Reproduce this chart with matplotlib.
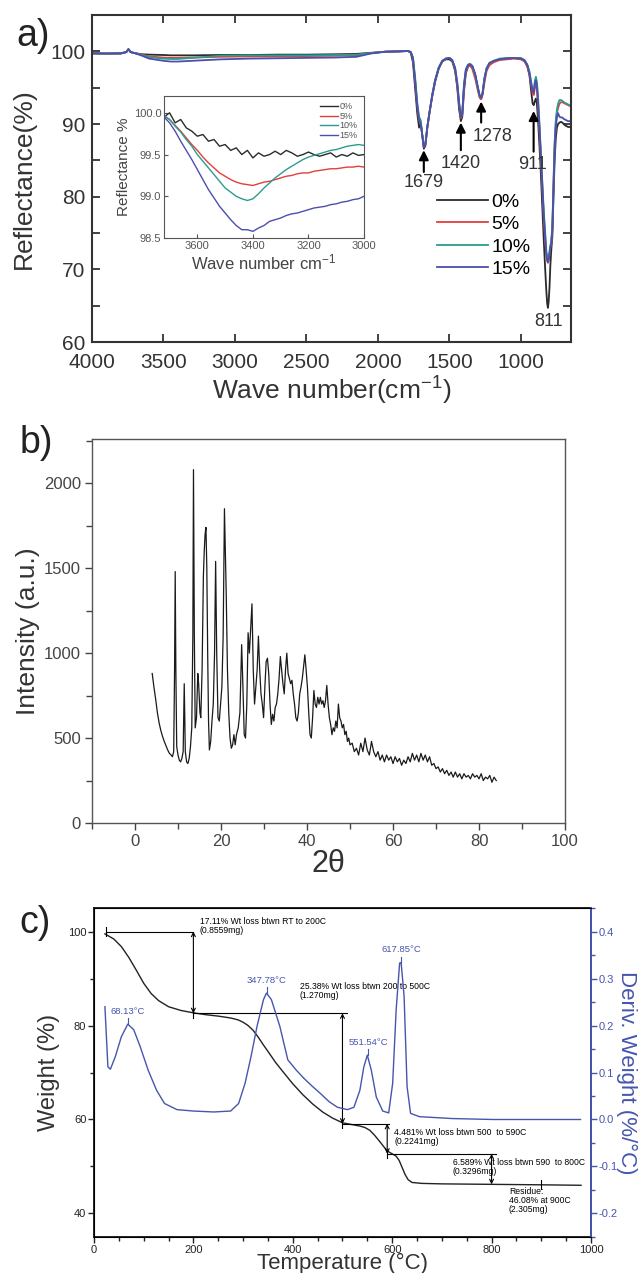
"""
three panel figure: a) FTIR reflectance, b) XRD, c) TGA / DTG
"""
import matplotlib
matplotlib.use("Agg")
import matplotlib.pyplot as plt
from matplotlib.ticker import MultipleLocator

plt.rcParams['font.family'] = ['Liberation Sans', 'DejaVu Sans']
plt.rcParams['mathtext.fontset'] = 'custom'
plt.rcParams['mathtext.rm'] = 'Liberation Sans'
plt.rcParams['mathtext.it'] = 'Liberation Sans:italic'
NARROW = ['Liberation Sans', 'DejaVu Sans']

# ---------------- a) FTIR ----------------
wave = [4000, 3900, 3800, 3760, 3745, 3730, 3700, 3650, 3600, 3500, 3450, 3400, 3300,
        3100, 2900, 2700, 2500, 2300, 2150, 2050, 1950, 1850, 1790, 1770, 1755, 1740,
        1725, 1712, 1700, 1690, 1679, 1668, 1655, 1640, 1620, 1600, 1575, 1550, 1525,
        1500, 1480, 1460, 1445, 1432, 1420, 1410, 1398, 1385, 1370, 1355, 1340, 1320,
        1300, 1288, 1278, 1268, 1255, 1240, 1220, 1190, 1150, 1100, 1050, 1000, 975,
        955, 940, 928, 918, 910, 902, 895, 888, 880, 870, 860, 850, 840, 830, 822, 816,
        811, 806, 800, 794, 788, 780, 772, 764, 756, 748, 740, 730, 720, 710, 700, 690,
        680, 670, 660, 650]
refl_0 = [99.75, 99.7, 99.75, 99.9, 100.3, 99.9, 99.75, 99.6, 99.55, 99.5, 99.45, 99.45, 99.45,
          99.5, 99.5, 99.55, 99.55, 99.6, 99.65, 99.8, 99.95, 100.0, 100.05, 99.8, 98.5, 95.0,
          91.5, 89.5, 90.0, 88.5, 86.6, 87.0, 89.5, 91.5, 93.8, 95.8, 97.6, 98.6, 98.9,
          98.9, 98.6, 97.3, 95.0, 92.0, 90.4, 91.0, 94.5, 97.0, 97.9, 98.1, 97.9, 96.8,
          94.8, 93.8, 93.5, 94.2, 96.2, 97.6, 98.3, 98.6, 98.9, 99.0, 99.1, 99.0, 98.7,
          98.0, 96.7, 94.5, 92.8, 92.6, 93.2, 93.5, 92.8, 90.5, 87.0, 83.0, 78.5, 74.0, 70.0, 67.0, 65.3,
          64.7, 65.5, 67.5, 70.5, 72.5, 74.5, 80.0, 85.0, 88.0, 89.5, 90.0, 90.2, 90.3, 90.2, 90.0, 89.8,
          89.7, 89.6, 89.6, 89.5]
refl_5 = [99.7, 99.7, 99.7, 99.9, 100.3, 99.9, 99.75, 99.55, 99.3, 99.15, 99.1, 99.1, 99.15,
          99.25, 99.3, 99.3, 99.35, 99.4, 99.45, 99.75, 99.95, 100.0, 100.05, 99.9, 99.0, 96.0,
          92.5, 90.5, 90.0, 88.5, 86.8, 87.2, 89.5, 91.5, 94.0, 96.0, 97.7, 98.6, 99.0,
          99.1, 98.7, 97.5, 95.3, 92.6, 90.8, 91.3, 95.0, 97.2, 98.0, 98.0, 97.6, 96.3,
          94.5, 93.6, 93.4, 94.0, 95.7, 97.3, 98.1, 98.5, 98.8, 98.9, 99.0, 98.9, 98.6,
          97.9, 96.8, 95.3, 94.2, 94.0, 95.0, 95.5, 94.8, 92.5, 89.0, 85.0, 81.0, 77.0, 74.0, 72.0, 71.2,
          70.9, 71.2, 72.0, 73.0, 73.5, 75.5, 81.5, 87.0, 90.0, 91.5, 92.2, 92.8, 93.0, 93.0, 92.9, 92.8,
          92.7, 92.6, 92.5, 92.5]
refl_10 = [99.75, 99.7, 99.7, 99.9, 100.3, 99.9, 99.75, 99.5, 99.2, 99.0, 98.95, 98.95, 99.1,
           99.4, 99.45, 99.45, 99.45, 99.5, 99.55, 99.75, 99.95, 100.0, 100.05, 99.9, 99.2, 96.5,
           93.0, 91.0, 90.5, 88.5, 87.0, 87.3, 89.5, 91.5, 94.0, 96.0, 97.8, 98.7, 99.0,
           99.1, 98.8, 97.7, 95.7, 93.0, 91.0, 91.5, 95.5, 97.5, 98.2, 98.3, 98.0, 96.8,
           94.9, 93.8, 93.6, 94.3, 96.3, 97.7, 98.4, 98.7, 99.0, 99.1, 99.1, 99.1, 98.8,
           98.2, 97.2, 95.8, 94.8, 94.6, 96.0, 96.5, 95.8, 93.8, 90.0, 86.0, 82.0, 78.0, 75.0, 72.5, 71.8,
           71.5, 71.8, 72.5, 73.3, 73.8, 76.0, 82.0, 87.5, 90.5, 92.0, 92.8, 93.3, 93.3, 93.2, 93.0, 92.9,
           92.8, 92.7, 92.6, 92.5]
refl_15 = [99.7, 99.7, 99.7, 99.9, 100.3, 99.9, 99.75, 99.4, 99.0, 98.7, 98.6, 98.6, 98.7,
           98.9, 99.0, 99.05, 99.1, 99.15, 99.25, 99.7, 99.95, 100.0, 100.05, 99.9, 99.0, 96.0,
           92.5, 90.5, 90.0, 88.5, 86.8, 87.2, 89.5, 91.5, 94.0, 96.0, 97.7, 98.7, 99.0,
           99.1, 98.8, 97.7, 95.6, 92.8, 90.9, 91.5, 95.3, 97.5, 98.1, 98.2, 98.0, 96.9,
           95.0, 93.9, 93.6, 94.3, 96.2, 97.6, 98.4, 98.7, 98.9, 99.0, 99.1, 99.0, 98.8,
           98.1, 97.0, 95.5, 94.5, 94.3, 95.6, 96.0, 95.3, 93.0, 89.5, 85.5, 81.5, 77.5, 74.5, 72.0, 71.3,
           71.0, 71.3, 72.0, 73.0, 73.5, 75.5, 81.0, 86.5, 89.5, 91.0, 91.5, 91.0, 90.9, 90.9, 90.7, 90.6,
           90.5, 90.4, 90.4, 90.3]
series_labels = ['0%', '5%', '10%', '15%']
series_colors = ['#2b2b2b', '#e0403a', '#2a9d8f', '#4b4fae']

# inset, O-H region
wave_in = [3740, 3720, 3700, 3680, 3660, 3640, 3620, 3600, 3580, 3560, 3540, 3520, 3500,
           3480, 3460, 3440, 3420, 3400, 3380, 3360, 3340, 3320, 3300, 3280, 3260, 3240,
           3220, 3200, 3180, 3160, 3140, 3120, 3100, 3080, 3060, 3040, 3020, 3000]
in_0 = [100.02, 99.95, 100.0, 99.88, 99.92, 99.82, 99.78, 99.72, 99.74, 99.66, 99.68, 99.6, 99.62,
        99.55, 99.58, 99.5, 99.55, 99.46, 99.52, 99.48, 99.5, 99.54, 99.5, 99.55, 99.52, 99.48,
        99.5, 99.53, 99.5, 99.48, 99.5, 99.52, 99.47, 99.5, 99.48, 99.52, 99.49, 99.5]
in_5 = [100.0, 99.96, 99.92, 99.85, 99.78, 99.7, 99.62, 99.55, 99.47, 99.4, 99.34, 99.28, 99.24,
        99.2, 99.17, 99.15, 99.14, 99.13, 99.15, 99.17, 99.18, 99.2, 99.22, 99.24, 99.25, 99.27,
        99.28, 99.28, 99.3, 99.31, 99.32, 99.33, 99.33, 99.34, 99.35, 99.35, 99.36, 99.35]
in_10 = [100.0, 99.97, 99.92, 99.84, 99.77, 99.68, 99.6, 99.5, 99.42, 99.34, 99.26, 99.18, 99.1,
         99.05, 99.0, 98.97, 98.95, 98.97, 99.03, 99.1, 99.16, 99.22, 99.27, 99.32, 99.36, 99.4,
         99.44, 99.47, 99.49, 99.51, 99.53, 99.55, 99.56, 99.58, 99.6, 99.61, 99.62, 99.61]
in_15 = [100.0, 99.95, 99.88, 99.78, 99.66, 99.55, 99.44, 99.32, 99.2, 99.08, 98.98, 98.88, 98.8,
         98.72, 98.65, 98.6, 98.6, 98.58, 98.62, 98.65, 98.7, 98.72, 98.74, 98.77, 98.79, 98.8,
         98.82, 98.84, 98.86, 98.87, 98.88, 98.9, 98.91, 98.93, 98.94, 98.96, 98.97, 99.0]

peak_pos = [1679, 1420, 1278, 911]
peak_tip = [86.4, 90.2, 93.1, 91.8]
peak_tail = [83.4, 86.4, 90.2, 86.2]
peak_text_y = [82.0, 84.6, 88.3, 84.4]
peak_text_x = [1679, 1420, 1200, 917]

# ---------------- b) XRD ----------------
two_theta = [4.0, 4.4, 4.8, 5.2, 5.6, 6.0, 6.4, 6.8, 7.2, 7.6, 8.0, 8.4, 8.7, 9.0, 9.2, 9.35,
             9.5, 9.7, 10.0, 10.3, 10.6, 10.9, 11.2, 11.45, 11.7, 12.0, 12.3, 12.6, 12.9,
             13.2, 13.45, 13.6, 13.8, 14.0, 14.3, 14.6, 14.8, 15.1, 15.3, 15.6, 15.9, 16.1,
             16.3, 16.5, 16.7, 16.9, 17.1, 17.3, 17.6, 17.9, 18.2, 18.5, 18.75, 19.0, 19.3,
             19.6, 19.9, 20.2, 20.5, 20.8, 21.0, 21.2, 21.5, 21.8, 22.1, 22.4, 22.7, 23.0,
             23.3, 23.6, 24.0, 24.4, 24.8, 25.1, 25.4, 25.7, 26.0, 26.3, 26.6, 26.9, 27.2,
             27.5, 27.8, 28.1, 28.4, 28.7, 29.0, 29.3, 29.6, 29.9, 30.2, 30.5, 30.8, 31.1,
             31.4, 31.7, 32.0, 32.3, 32.6, 32.9, 33.2, 33.5, 33.8, 34.1, 34.4, 34.7, 35.0,
             35.3, 35.6, 35.9, 36.2, 36.5, 36.8, 37.1, 37.4, 37.7, 38.0, 38.3, 38.6, 38.9,
             39.2, 39.5, 39.8, 40.1, 40.4, 40.7, 41.0, 41.3, 41.6, 41.9, 42.2, 42.5, 42.8,
             43.1, 43.4, 43.7, 44.0, 44.3, 44.6, 44.9, 45.2, 45.5, 45.8, 46.1, 46.4, 46.7,
             47.0, 47.3, 47.6, 47.9, 48.2, 48.5, 48.8, 49.1, 49.4, 49.7, 50.0, 50.5, 51.0,
             51.5, 52.0, 52.5, 53.0, 53.5, 54.0, 54.5, 55.0, 55.5, 56.0, 56.5, 57.0, 57.5,
             58.0, 58.5, 59.0, 59.5, 60.0, 60.5, 61.0, 61.5, 62.0, 62.5, 63.0, 63.5, 64.0,
             64.5, 65.0, 65.5, 66.0, 66.5, 67.0, 67.5, 68.0, 68.5, 69.0, 69.5, 70.0, 70.5,
             71.0, 71.5, 72.0, 72.5, 73.0, 73.5, 74.0, 74.5, 75.0, 75.5, 76.0, 76.5, 77.0,
             77.5, 78.0, 78.5, 79.0, 79.5, 80.0, 80.5, 81.0, 81.5, 82.0, 82.5, 83.0, 83.5, 84.0]
intensity = [880, 800, 730, 650, 590, 545, 510, 480, 455, 430, 410, 400, 390, 420, 900, 1480,
             900, 450, 400, 370, 360, 380, 420, 820, 420, 360, 350, 380, 450,
             560, 1100, 2080, 1100, 560, 620, 880, 820, 650, 620, 900, 1450, 1600,
             1700, 1740, 1500, 1000, 600, 430, 480, 600, 700, 1000, 1540, 1000, 620,
             600, 700, 800, 1100, 1850, 1600, 1370, 900, 650, 500, 440, 460, 520,
             460, 520, 560, 650, 1050, 800, 520, 500, 700, 1120, 1000, 1150, 1290,
             900, 700, 800, 900, 1100, 900, 760, 700, 620, 800, 950, 970, 880,
             700, 580, 640, 600, 680, 700, 760, 850, 980, 900, 820, 760, 900,
             1000, 880, 850, 820, 840, 760, 700, 620, 600, 650, 760, 800, 850,
             920, 990, 900, 800, 650, 520, 500, 620, 780, 700, 680, 740, 700,
             740, 700, 720, 680, 720, 810, 700, 620, 580, 520, 560, 540, 600,
             560, 700, 620, 600, 560, 580, 520, 540, 480, 500, 460, 470, 420,
             440, 400, 470, 420, 500, 430, 400, 480, 420, 390, 420, 370, 400,
             360, 400, 370, 390, 350, 390, 360, 380, 340, 370, 350, 390, 360,
             410, 370, 400, 360, 410, 370, 400, 360, 390, 340, 350, 320, 330,
             300, 320, 290, 310, 280, 300, 270, 300, 270, 290, 260, 290, 270,
             280, 260, 290, 270, 280, 260, 290, 250, 270, 260, 280, 240, 270, 250]

# ---------------- c) TGA ----------------
temp_w = [22, 40, 55, 70, 85, 100, 115, 130, 150, 175, 200, 225, 250, 275, 290, 300, 310,
          320, 330, 340, 350, 365, 380, 400, 420, 440, 460, 480, 500, 520, 535, 545, 555,
          565, 575, 590, 600, 608, 614, 620, 626, 632, 640, 660, 700, 800, 900, 980]
weight = [99.5, 98.4, 96.8, 94.5, 91.8, 89.0, 86.8, 85.3, 84.0, 83.2, 82.7, 82.3, 82.0,
          81.6, 81.2, 80.7, 80.0, 79.0, 77.6, 76.0, 74.5, 72.2, 70.2, 67.6, 65.3, 63.3,
          61.6, 60.3, 59.3, 58.9, 58.6, 58.3, 57.7, 56.6, 55.3, 53.3, 52.7, 52.2, 51.3,
          49.8, 48.3, 47.2, 46.6, 46.4, 46.3, 46.2, 46.1, 46.0]
temp_d = [22, 28, 33, 43, 55, 68, 80, 93, 109, 126, 142, 167, 200, 241, 275, 291, 304,
          316, 328, 341, 347, 357, 374, 390, 407, 423, 440, 457, 473, 490, 510, 523, 535,
          543, 550, 558, 568, 581, 593, 601, 608, 615, 618, 624, 630, 637, 655, 688, 721,
          804, 887, 979]
deriv = [0.240, 0.112, 0.107, 0.134, 0.176, 0.203, 0.191, 0.155, 0.105, 0.062, 0.034,
         0.021, 0.018, 0.016, 0.018, 0.034, 0.077, 0.134, 0.198, 0.255, 0.269, 0.255,
         0.198, 0.127, 0.105, 0.087, 0.070, 0.054, 0.038, 0.026, 0.021, 0.026, 0.062,
         0.112, 0.137, 0.105, 0.048, 0.018, 0.014, 0.077, 0.233, 0.333, 0.334, 0.262,
         0.070, 0.013, 0.006, 0.004, 0.002, 0.0, 0.0, 0.0]
dtg_peak_t = [68.13, 347.78, 551.54, 617.85]
dtg_peak_d = [0.203, 0.269, 0.137, 0.334]
# loss steps: arrow x, upper level, lower level, guide line start / end
step_x = [200, 500, 590, 800]
step_hi = [100.0, 82.6, 59.1, 52.7]
step_lo = [82.6, 59.1, 52.7, 46.2]
step_line_from = [25, 200, 500, 590]
step_line_to = [200, 510, 593, 808]
step_text = ['17.11% Wt loss btwn RT to 200C\n(0.8559mg)',
             '25.38% Wt loss btwn 200 to 500C\n(1.270mg)',
             '4.481% Wt loss btwn 500  to 590C\n(0.2241mg)',
             '6.589% Wt loss btwn 590  to 800C\n(0.3296mg)']
step_text_x = [213, 414, 604, 722]
step_text_y = [103.0, 89.2, 58.1, 51.9]
residue_text = 'Residue:\n46.08% at 900C\n(2.305mg)'

DARK = '#333333'
BLUE = '#4656ad'

fig = plt.figure(figsize=(6.42, 12.73), dpi=100)

# ---- panel a
ax_a = fig.add_axes([0.1433, 0.7313, 0.746, 0.2569])
for ys, lab, col in zip([refl_0, refl_5, refl_10, refl_15], series_labels, series_colors):
    ax_a.plot(wave, ys, color=col, lw=1.3, label=lab)
ax_a.set_xlim(4000, 650)
ax_a.set_ylim(60, 105)
ax_a.xaxis.set_major_locator(MultipleLocator(500))
ax_a.yaxis.set_major_locator(MultipleLocator(10))
ax_a.yaxis.set_minor_locator(MultipleLocator(5))
ax_a.tick_params(which='both', direction='in', top=True, right=True, width=1.3,
                 labelsize=15, colors=DARK, length=6)
ax_a.tick_params(axis='x', pad=8)
ax_a.tick_params(axis='y', pad=5)
for s in ax_a.spines.values():
    s.set_linewidth(1.5)
    s.set_color(DARK)
ax_a.set_ylabel('Reflectance(%)', fontsize=19, color=DARK, labelpad=10)
ax_a.set_xlabel('Wave number(cm$^{-1}$)', fontsize=19, color=DARK, labelpad=2)
for x, y0, y1, tx, ty in zip(peak_pos, peak_tail, peak_tip, peak_text_x, peak_text_y):
    ax_a.annotate('', xy=(x, y1), xytext=(x, y0),
                  arrowprops=dict(arrowstyle='-|>', color='black', lw=1.5,
                                  mutation_scale=14, shrinkA=0, shrinkB=0))
    ax_a.text(tx, ty, str(x), ha='center', va='center', fontsize=13, color=DARK)
ax_a.text(804, 62.8, '811', ha='center', va='center', fontsize=13, color=DARK)
ax_a.legend(loc='upper left', bbox_to_anchor=(0.70, 0.485), frameon=False, fontsize=14,
            handlelength=2.6, labelspacing=0.25, handletextpad=0.2, borderpad=0)

# inset
ax_in = fig.add_axes([0.2555, 0.813, 0.3115, 0.1115])
for ys, lab, col in zip([in_0, in_5, in_10, in_15], series_labels, series_colors):
    ax_in.plot(wave_in, ys, color=col, lw=1.0, label=lab)
ax_in.set_xlim(3720, 3000)
ax_in.set_ylim(98.5, 100.2)
ax_in.xaxis.set_major_locator(MultipleLocator(200))
ax_in.yaxis.set_major_locator(MultipleLocator(0.5))
ax_in.yaxis.set_major_formatter(plt.FormatStrFormatter('%.1f'))
ax_in.tick_params(direction='in', labelsize=8, colors='#555555', length=3, pad=2)
for s in ax_in.spines.values():
    s.set_linewidth(0.8)
    s.set_color('#555555')
ax_in.set_ylabel('Reflectance %', fontsize=11, color='#444444', labelpad=2)
ax_in.set_xlabel('Wave number cm$^{-1}$', fontsize=12, color='#444444', labelpad=1)
ax_in.legend(loc='upper right', frameon=False, fontsize=6.5, handlelength=2.0,
             labelspacing=0.05, handletextpad=0.2, borderpad=0.2, labelcolor='#555555')

# ---- panel b
ax_b = fig.add_axes([0.1433, 0.3535, 0.7368, 0.3016])
ax_b.plot(two_theta, intensity, color='#1a1a1a', lw=0.9)
ax_b.set_xlim(-10, 100)
ax_b.set_ylim(0, 2260)
ax_b.xaxis.set_major_locator(MultipleLocator(20))
ax_b.xaxis.set_minor_locator(MultipleLocator(10))
ax_b.yaxis.set_major_locator(MultipleLocator(500))
ax_b.yaxis.set_minor_locator(MultipleLocator(250))
ax_b.tick_params(which='both', direction='out', width=1.0, colors='#444444')
ax_b.tick_params(which='major', length=5, labelsize=12, pad=3)
ax_b.tick_params(which='minor', length=4)
for lab in ax_b.get_xticklabels() + ax_b.get_yticklabels():
    lab.set_family(NARROW)
for s in ax_b.spines.values():
    s.set_linewidth(1.0)
    s.set_color('#555555')
ax_b.set_ylabel('Intensity (a.u.)', fontsize=19, color=DARK, labelpad=3)
ax_b.set_xlabel('2θ', fontsize=22, color=DARK, labelpad=0)

# ---- panel c
ax_c = fig.add_axes([0.1464, 0.0283, 0.7741, 0.2584])
ax_c.plot(temp_w, weight, color='#222222', lw=1.0)
ax_c.set_xlim(0, 1000)
ax_c.set_ylim(35, 105)
ax_c.xaxis.set_major_locator(MultipleLocator(200))
ax_c.xaxis.set_minor_locator(MultipleLocator(50))
ax_c.yaxis.set_major_locator(MultipleLocator(20))
ax_c.yaxis.set_minor_locator(MultipleLocator(10))
ax_c.tick_params(which='both', direction='out', width=1.0, colors='#222222')
ax_c.tick_params(which='major', length=4, labelsize=8, pad=1.5)
ax_c.tick_params(which='minor', length=3)
for lab in ax_c.get_xticklabels() + ax_c.get_yticklabels():
    lab.set_family(NARROW)
for s in ax_c.spines.values():
    s.set_linewidth(1.4)
    s.set_color('#222222')
ax_c.set_ylabel('Weight (%)', fontsize=17, color=DARK, labelpad=6)
ax_c.set_xlabel('Temperature (°C)', fontsize=16, color=DARK, labelpad=-1)

for x, hi, lo, x0, x1, txt, tx, ty in zip(step_x, step_hi, step_lo, step_line_from,
                                          step_line_to, step_text, step_text_x, step_text_y):
    ax_c.plot([x0, x1], [hi, hi], color='black', lw=0.8)
    ax_c.plot([x0, x0], [hi - 0.9, hi + 0.9], color='black', lw=0.8)
    ax_c.annotate('', xy=(x, lo), xytext=(x, hi),
                  arrowprops=dict(arrowstyle='<->', color='black', lw=0.8,
                                  mutation_scale=7, shrinkA=0, shrinkB=0))
    ax_c.text(tx, ty, txt, ha='left', va='top', fontsize=6.2, family=NARROW,
              color='black', linespacing=1.0)
ax_c.plot([900, 900], [45.3, 47.1], color='black', lw=0.8)
ax_c.text(835, 45.6, residue_text, ha='left', va='top', fontsize=6.2, family=NARROW,
          color='black', linespacing=1.0)

ax_d = ax_c.twinx()
ax_d.plot(temp_d, deriv, color=BLUE, lw=1.0)
ax_d.set_ylim(-0.25, 0.45)
ax_d.yaxis.set_major_locator(MultipleLocator(0.1))
ax_d.yaxis.set_minor_locator(MultipleLocator(0.05))
ax_d.yaxis.set_major_formatter(plt.FormatStrFormatter('%.1f'))
ax_d.tick_params(which='both', direction='out', width=1.0, colors=BLUE)
ax_d.tick_params(which='major', length=4, labelsize=8, pad=1.5)
ax_d.tick_params(which='minor', length=3)
for lab in ax_d.get_yticklabels():
    lab.set_family(NARROW)
ax_d.spines['right'].set_color(BLUE)
ax_d.spines['right'].set_linewidth(1.4)
ax_d.set_ylabel('Deriv. Weight (%/°C)', fontsize=16, color=BLUE, rotation=-90,
                labelpad=14)
for t, d in zip(dtg_peak_t, dtg_peak_d):
    ax_d.plot([t, t], [d, d + 0.012], color=BLUE, lw=0.8)
    ax_d.text(t, d + 0.018, f'{t:.2f}°C', ha='center', va='bottom', fontsize=6.8,
              family=NARROW, color=BLUE)

fig.text(0.025, 0.972, 'a)', fontsize=27, color='#222222', va='center')
fig.text(0.03, 0.652, 'b)', fontsize=27, color='#222222', va='center')
fig.text(0.03, 0.275, 'c)', fontsize=27, color='#222222', va='center')

fig.savefig('out.png', dpi=100)
